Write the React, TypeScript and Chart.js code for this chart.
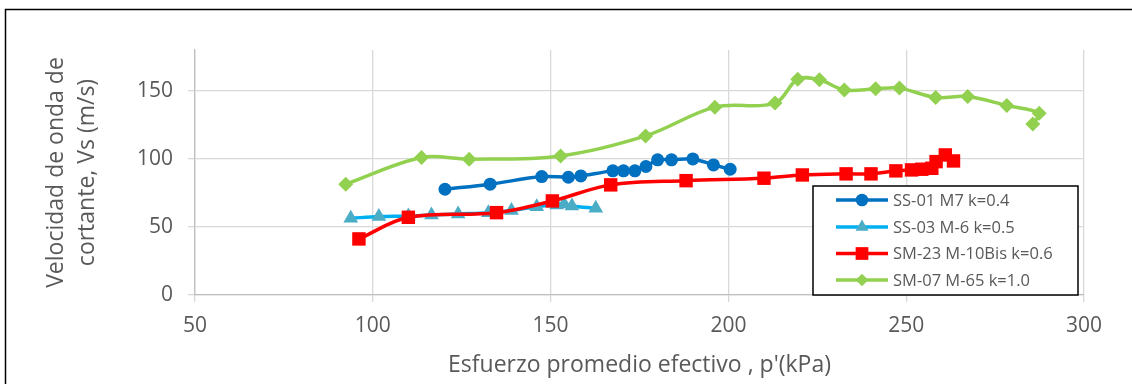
import React, { useEffect, useRef } from "react";
import { Chart, registerables } from "chart.js";

Chart.register(...registerables);

// ---- data ----
const seriesNames = [
  "SS-01 M7 k=0.4",
  "SS-03 M-6 k=0.5",
  "SM-23 M-10Bis k=0.6",
  "SM-07 M-65 k=1.0",
];

const ss01X = [120.3, 133.0, 147.5, 155.0, 158.5, 167.5, 170.5, 173.7, 176.8, 180.1, 184.0, 190.0, 195.8, 200.5];
const ss01Y = [77.7, 81.4, 87.0, 86.5, 87.5, 91.2, 91.2, 91.2, 94.4, 99.3, 99.3, 100.0, 95.6, 92.4];

const ss03X = [93.8, 101.7, 110.0, 116.5, 124.0, 132.5, 139.0, 146.1, 151.7, 153.8, 156.0, 162.7];
const ss03Y = [56.4, 57.6, 58.0, 58.8, 59.6, 60.5, 62.0, 64.9, 66.2, 66.9, 65.4, 63.7];

const sm23X = [96.1, 110.0, 134.8, 150.5, 166.9, 188.1, 210.0, 220.8, 233.1, 240.1, 247.1, 251.5, 254.4, 257.2, 258.4, 261.0, 263.3];
const sm23Y = [41.2, 57.1, 60.5, 69.1, 80.9, 84.0, 85.8, 88.2, 89.0, 89.0, 91.2, 91.9, 92.4, 93.1, 98.0, 102.9, 98.5];

const sm07X = [92.4, 113.7, 127.1, 152.8, 176.7, 196.2, 213.1, 219.5, 225.6, 232.6, 241.4, 248.1, 258.3, 267.3, 278.3, 287.4, 285.6];
const sm07Y = [81.4, 101.0, 99.8, 102.2, 116.9, 138.0, 141.0, 158.6, 158.1, 150.7, 151.5, 152.0, 145.1, 145.8, 139.2, 133.6, 125.7];

const xTickValues = [50, 100, 150, 200, 250, 300];
const yTickValues = [0, 50, 100, 150];

const xTitle = "Esfuerzo promedio efectivo , p'(kPa)";
const yTitle = ["Velocidad de onda de", "cortante, Vs (m/s)"];

// ---- styles ----
const FONT = "'Open Sans', 'DejaVu Sans', sans-serif";
const TEXT = "#595959";
const GRID = "#D9D9D9";
const AXIS = "#BFBFBF";

const styles = [
  { line: "#0070C0", fill: "#0070C0", shape: "circle", r: 6.5 },
  { line: "#00B0F0", fill: "#4BACC6", shape: "triangle", r: 8.5 },
  { line: "#FF0000", fill: "#FF0000", shape: "rect", r: 9.5 },
  { line: "#92D050", fill: "#92D050", shape: "rectRot", r: 7.5 },
];

const zip = (xs: number[], ys: number[]) => xs.map((x, i) => ({ x, y: ys[i] }));

function drawMarker(ctx: CanvasRenderingContext2D, shape: string, x: number, y: number, r: number) {
  ctx.beginPath();
  if (shape === "circle") {
    ctx.arc(x, y, r, 0, Math.PI * 2);
  } else if (shape === "triangle") {
    for (let k = 0; k < 3; k++) {
      const a = -Math.PI / 2 + (k * 2 * Math.PI) / 3;
      const px = x + Math.cos(a) * r;
      const py = y + Math.sin(a) * r;
      if (k === 0) ctx.moveTo(px, py);
      else ctx.lineTo(px, py);
    }
    ctx.closePath();
  } else if (shape === "rect") {
    const s = Math.SQRT1_2 * r;
    ctx.rect(x - s, y - s, 2 * s, 2 * s);
  } else {
    ctx.moveTo(x - r, y);
    ctx.lineTo(x, y - r);
    ctx.lineTo(x + r, y);
    ctx.lineTo(x, y + r);
    ctx.closePath();
  }
  ctx.fill();
}

const framePlugin = {
  id: "frame",
  afterDraw(chart: any) {
    const ctx = chart.ctx as CanvasRenderingContext2D;
    ctx.save();
    // chart outer border (top and left visible)
    ctx.strokeStyle = "#000000";
    ctx.lineWidth = 1.5;
    ctx.beginPath();
    ctx.moveTo(5.5, 400);
    ctx.lineTo(5.5, 9.5);
    ctx.lineTo(1140, 9.5);
    ctx.stroke();

    // legend
    const lx = 813, ly = 186, lw = 265, lh = 109;
    ctx.fillStyle = "#ffffff";
    ctx.fillRect(lx, ly, lw, lh);
    ctx.strokeStyle = "#000000";
    ctx.lineWidth = 1.5;
    ctx.strokeRect(lx, ly, lw, lh);
    const rowY = [200, 227, 253.5, 280];
    ctx.font = `16.5px ${FONT}`;
    ctx.textBaseline = "middle";
    ctx.textAlign = "left";
    seriesNames.forEach((name, i) => {
      const st = styles[i];
      const y = rowY[i];
      ctx.strokeStyle = st.line;
      ctx.lineWidth = 3.5;
      ctx.beginPath();
      ctx.moveTo(836, y);
      ctx.lineTo(888, y);
      ctx.stroke();
      ctx.fillStyle = st.fill;
      drawMarker(ctx, st.shape, 862, y, st.shape === "rect" ? 9 : st.shape === "triangle" ? 7.5 : 6.3);
      ctx.fillStyle = TEXT;
      ctx.fillText(name, 893, y + 1);
    });
    ctx.restore();
  },
};

export default function App() {
  const ref = useRef<HTMLCanvasElement | null>(null);

  useEffect(() => {
    document.body.style.margin = "0";
    const canvas = ref.current;
    if (!canvas) return;
    const datasets = [
      zip(ss01X, ss01Y),
      zip(ss03X, ss03Y),
      zip(sm23X, sm23Y),
      zip(sm07X, sm07Y),
    ].map((data, i) => ({
      label: seriesNames[i],
      data,
      showLine: true,
      borderColor: styles[i].line,
      backgroundColor: styles[i].fill,
      borderWidth: 3.5,
      pointStyle: styles[i].shape,
      pointRadius: styles[i].r,
      pointHoverRadius: styles[i].r,
      pointBorderWidth: 0,
      pointBackgroundColor: styles[i].fill,
      tension: 0.35,
      order: 4 - i,
    }));

    const chart = new Chart(canvas, {
      type: "scatter",
      data: { datasets },
      options: {
        responsive: false,
        animation: false,
        events: [],
        layout: { padding: { left: 0, top: 50, right: 48, bottom: 0 } },
        plugins: {
          legend: { display: false },
          tooltip: { enabled: false },
        },
        scales: {
          x: {
            type: "linear",
            min: 50,
            max: 300,
            afterBuildTicks: (scale: any) => {
              scale.ticks = xTickValues.map((v) => ({ value: v }));
            },
            afterFit: (scale: any) => {
              scale.height = 89;
            },
            grid: { color: GRID, lineWidth: 1.3, tickLength: 7, drawTicks: true },
            border: { color: AXIS, width: 1.3 },
            ticks: {
              color: TEXT,
              font: { family: FONT, size: 21 },
              padding: 11,
              maxRotation: 0,
            },
            title: {
              display: true,
              text: xTitle,
              color: TEXT,
              font: { family: FONT, size: 23, lineHeight: 1.2 },
              padding: { top: 0, bottom: 5 },
            },
          },
          y: {
            type: "linear",
            min: 0,
            max: 180,
            afterBuildTicks: (scale: any) => {
              scale.ticks = yTickValues.map((v) => ({ value: v }));
            },
            afterFit: (scale: any) => {
              scale.width = 195;
            },
            grid: { color: GRID, lineWidth: 1.3, tickLength: 7, drawTicks: true },
            border: { color: AXIS, width: 1.3 },
            ticks: {
              color: TEXT,
              font: { family: FONT, size: 21 },
              padding: 15,
            },
            title: {
              display: true,
              text: yTitle,
              color: TEXT,
              font: { family: FONT, size: 23, lineHeight: 1.33 },
              padding: { top: 41.5, bottom: 0 },
            },
          },
        },
      },
      plugins: [framePlugin],
    } as any);
    return () => chart.destroy();
  }, []);

  return (
    <div style={{ position: "fixed", left: 0, top: 0, width: 1132, height: 384, background: "#fff" }}>
      <canvas ref={ref} width={1132} height={384} style={{ display: "block" }} />
    </div>
  );
}
